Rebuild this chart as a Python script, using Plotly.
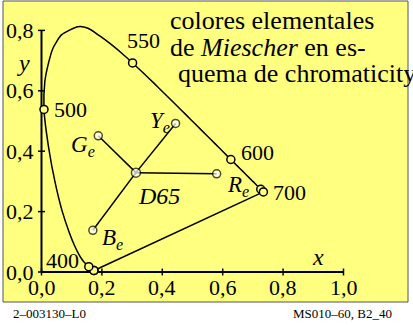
import plotly.graph_objects as go

# spectral locus (CIE 1931 values, upper arc)
locus_x = [0.1741, 0.1738, 0.1733, 0.1726, 0.1714, 0.1689, 0.1644, 0.1566, 0.1510, 0.1440,
           0.1355, 0.1241, 0.1096, 0.0913, 0.0687, 0.0454, 0.0235, 0.0082,
           0.0110, 0.0215, 0.0380, 0.0660, 0.1210, 0.1540,
           0.1929, 0.2296, 0.2658, 0.3016, 0.3373, 0.3731, 0.4087, 0.4441, 0.4788, 0.5125,
           0.5448, 0.5752, 0.6029, 0.6270, 0.6482, 0.6658, 0.6801, 0.6915, 0.7006, 0.7079,
           0.7140, 0.7190, 0.7230, 0.7260, 0.7300, 0.7320, 0.7334, 0.7344, 0.7347]
locus_y = [0.0050, 0.0049, 0.0048, 0.0048, 0.0051, 0.0069, 0.0109, 0.0177, 0.0227, 0.0297,
           0.0399, 0.0578, 0.0868, 0.1327, 0.2007, 0.2950, 0.4127, 0.5384,
           0.6300, 0.6850, 0.7410, 0.7850, 0.8120, 0.8070,
           0.7816, 0.7543, 0.7243, 0.6923, 0.6589, 0.6245, 0.5896, 0.5547, 0.5202, 0.4866,
           0.4544, 0.4242, 0.3965, 0.3725, 0.3514, 0.3340, 0.3197, 0.3083, 0.2993, 0.2920,
           0.2859, 0.2809, 0.2770, 0.2740, 0.2700, 0.2680, 0.2666, 0.2656, 0.2653]

# marked wavelengths
mark_nm = ["380", "400", "450", "500", "550", "600", "650", "700"]
mark_x = [0.1741, 0.1733, 0.1566, 0.0082, 0.3016, 0.6270, 0.7260, 0.7347]
mark_y = [0.0050, 0.0048, 0.0177, 0.5384, 0.6923, 0.3725, 0.2740, 0.2653]

# elementary colours after Miescher
elem_names = ["G", "Y", "B", "R"]
elem_x = [0.188, 0.444, 0.170, 0.580]
elem_y = [0.451, 0.492, 0.138, 0.325]

d65_x, d65_y = 0.3127, 0.3290

x_ticks = [0.0, 0.2, 0.4, 0.6, 0.8, 1.0]
y_ticks = [0.0, 0.2, 0.4, 0.6, 0.8]
x_labels = ["0,0", "0,2", "0,4", "0,6", "0,8", "1,0"]
y_labels = ["0,0", "0,2", "0,4", "0,6", "0,8"]

title_lines = ["colores elementales", "de <i>Miescher</i> en es-", "quema de chromaticity"]

# pixel mapping of the picture: px = 41.5 + 302*x, py = 272 - 302*y
W, H = 413, 325
X0, Y0, S = 41.5, 272.0, 302.0


def dx(px):
    return (px - X0) / S


def dy(py):
    return (Y0 - py) / S


FONT = "Liberation Serif"
tick = 3.5 / S

fig = go.Figure()

# yellow frame
fig.add_shape(type="rect", xref="paper", yref="paper",
              x0=3 / W, x1=408 / W, y0=1 - 302 / H, y1=1 - 1 / H,
              fillcolor="#ffff80", line=dict(color="#555555", width=1), layer="below")

# axes
fig.add_trace(go.Scatter(x=[x_ticks[0], x_ticks[-1], None, 0, 0],
                         y=[0, 0, None, y_ticks[0], y_ticks[-1]],
                         mode="lines", line=dict(color="black", width=2)))
tx, ty = [], []
for t in x_ticks:
    tx += [t, t, None]
    ty += [-tick, tick, None]
for t in y_ticks:
    tx += [-tick, tick, None]
    ty += [t, t, None]
fig.add_trace(go.Scatter(x=tx, y=ty, mode="lines", line=dict(color="black", width=1.5)))

# spectral locus and purple line
fig.add_trace(go.Scatter(x=locus_x, y=locus_y, mode="lines",
                         line=dict(color="black", width=1.5, shape="spline", smoothing=0.6)))
fig.add_trace(go.Scatter(x=[locus_x[-1], locus_x[0]], y=[locus_y[-1], locus_y[0]],
                         mode="lines", line=dict(color="black", width=1.5)))

# lines D65 -> elementary colours
lx, ly = [], []
for ex, ey in zip(elem_x, elem_y):
    lx += [d65_x, ex, None]
    ly += [d65_y, ey, None]
fig.add_trace(go.Scatter(x=lx, y=ly, mode="lines", line=dict(color="black", width=1.5)))

fig.add_trace(go.Scatter(x=mark_x, y=mark_y, mode="markers",
                         marker=dict(size=8, color="#ffff80", line=dict(color="black", width=1.5))))
fig.add_trace(go.Scatter(x=elem_x + [d65_x], y=elem_y + [d65_y], mode="markers",
                         marker=dict(size=[8, 8, 8, 8, 9], color="white",
                                     line=dict(color="black", width=1.5))))


def label(text, px, py, size=22, xanchor="left", xref="x", yref="y"):
    if xref == "x":
        x, y = dx(px), dy(py)
    else:
        x, y = px / W, 1 - py / H
    fig.add_annotation(x=x, y=y, xref=xref, yref=yref, text=text, showarrow=False,
                       xanchor=xanchor, yanchor="middle",
                       font=dict(family=FONT, size=size, color="black"))


# tick labels
for t, s in zip(x_ticks, x_labels):
    fig.add_annotation(x=t, y=dy(287.5), text=s, showarrow=False, xanchor="center",
                       yanchor="middle", font=dict(family=FONT, size=22, color="black"))
for t, s in zip(y_ticks, y_labels):
    fig.add_annotation(x=dx(36), y=t, text=s, showarrow=False, xanchor="right",
                       yanchor="middle", font=dict(family=FONT, size=22, color="black"))

# wavelength labels
label("500", 52, 109.5)
label("550", 125, 40.5)
label("600", 239, 152)
label("700", 271, 192)
label("400", 44, 260.5)

# elementary colour labels
label("<i>D65</i>", 136, 195.5, size=24)
elem_px = [69, 148, 100, 225]
elem_py = [146, 122, 239, 186]
for n, px, py in zip(elem_names, elem_px, elem_py):
    label("<i>%s<sub>e</sub></i>" % n, px, py, size=23)

label("<i>x</i>", 318, 257, size=24, xanchor="center")
label("<i>y</i>", 23, 63, size=24, xanchor="center")

# title
label(title_lines[0], 168, 20, size=26)
label(title_lines[1], 168, 47, size=26)
label(title_lines[2], 176, 73, size=26)

# footer
label("2\u2013003130\u2013L0", 11, 313, size=13, xref="paper", yref="paper")
label("MS010\u201360, B2_40", 291, 313, size=13, xref="paper", yref="paper")

fig.update_layout(width=W, height=H, margin=dict(l=0, r=0, t=0, b=0),
                  paper_bgcolor="white", plot_bgcolor="rgba(0,0,0,0)", showlegend=False,
                  xaxis=dict(range=[dx(0), dx(W)], visible=False, fixedrange=True),
                  yaxis=dict(range=[dy(H), dy(0)], visible=False, fixedrange=True))

fig.write_html("out.html", config={"displayModeBar": False},
               post_script="document.body.style.margin='0';")
